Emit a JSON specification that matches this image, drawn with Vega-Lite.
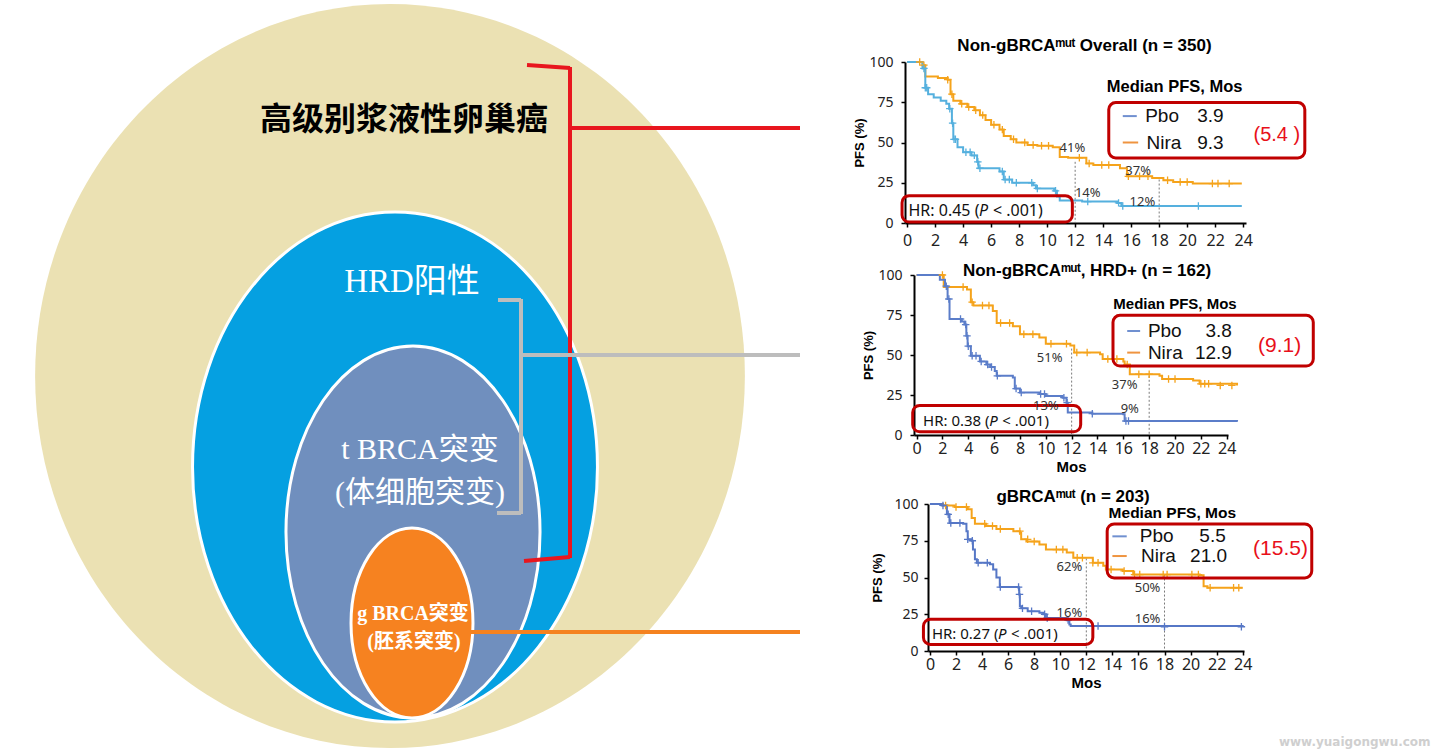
{
"$schema": "https://vega.github.io/schema/vega-lite/v6.json",
"padding": 0,
"background": "white",
"spacing": 42,
"resolve": {"scale": {"color": "independent", "stroke": "independent"}},
"config": {
 "view": {"stroke": null},
 "axis": {"grid": false, "domainColor": "#000", "domainWidth": 2, "tickColor": "#000", "tickWidth": 1.5, "tickSize": 4, "labelFont": "Noto Sans", "labelColor": "#222", "titleFont": "Liberation Sans", "titleFontWeight": "bold", "titleColor": "#000", "labelFlush": false, "labelOverlap": false},
 "axisX": {"labelFontSize": 16, "labelPadding": 1, "titleFontSize": 15, "titlePadding": 3},
 "axisY": {"labelFontSize": 14, "titleFontSize": 13},
 "title": {"font": "Liberation Sans", "fontWeight": "bold", "fontSize": 17, "color": "#000", "frame": "group"}
},
"datasets": {
 "ell": [
  {"id": "ovarian", "x": 390, "y": 376},
  {"id": "hrd", "x": 395, "y": 467},
  {"id": "tbrca", "x": 413, "y": 532},
  {"id": "gbrca", "x": 412, "y": 623}
 ],
 "links": [
  {"link": "ovarian", "x": 527, "y": 65, "x2": 570, "y2": 68},
  {"link": "ovarian", "x": 570, "y": 67, "x2": 570, "y2": 558},
  {"link": "ovarian", "x": 570, "y": 557, "x2": 524, "y2": 561},
  {"link": "ovarian", "x": 570, "y": 128, "x2": 800, "y2": 128},
  {"link": "hrd", "x": 498, "y": 300, "x2": 521, "y2": 300},
  {"link": "hrd", "x": 521, "y": 299, "x2": 521, "y2": 514},
  {"link": "hrd", "x": 521, "y": 513, "x2": 497, "y2": 513},
  {"link": "hrd", "x": 521, "y": 355, "x2": 800, "y2": 355},
  {"link": "gbrca", "x": 470, "y": 632, "x2": 800, "y2": 632}
 ],
 "labels": [
  {"grp": "main", "label": "高级别浆液性卵巢癌", "x": 404, "y": 120},
  {"grp": "hrd", "label": "HRD阳性", "x": 412, "y": 282},
  {"grp": "t", "label": "t BRCA突变", "x": 420, "y": 450},
  {"grp": "t", "label": "(体细胞突变)", "x": 420, "y": 493},
  {"grp": "g", "label": "g BRCA突变", "x": 413, "y": 614},
  {"grp": "g", "label": "(胚系突变)", "x": 414, "y": 642}
 ],
 "km1": [
  {"arm":"Nira","t":0,"s":100},{"arm":"Nira","t":1.1,"s":98},{"arm":"Nira","t":1.3,"s":91},{"arm":"Nira","t":2.2,"s":90},{"arm":"Nira","t":2.9,"s":89},{"arm":"Nira","t":3.1,"s":80},{"arm":"Nira","t":3.3,"s":76},{"arm":"Nira","t":3.8,"s":74},{"arm":"Nira","t":4.3,"s":72},{"arm":"Nira","t":4.8,"s":70},{"arm":"Nira","t":5.2,"s":67},{"arm":"Nira","t":5.6,"s":64},{"arm":"Nira","t":6.0,"s":61},{"arm":"Nira","t":6.6,"s":58},{"arm":"Nira","t":6.9,"s":54},{"arm":"Nira","t":7.4,"s":52},{"arm":"Nira","t":7.8,"s":50},{"arm":"Nira","t":8.6,"s":48.5},{"arm":"Nira","t":9.3,"s":48},{"arm":"Nira","t":10.4,"s":47},{"arm":"Nira","t":10.9,"s":41},{"arm":"Nira","t":11.5,"s":40.5},{"arm":"Nira","t":12.8,"s":37},{"arm":"Nira","t":13.3,"s":36},{"arm":"Nira","t":15.2,"s":34},{"arm":"Nira","t":15.7,"s":29},{"arm":"Nira","t":17.5,"s":28},{"arm":"Nira","t":18.3,"s":26.5},{"arm":"Nira","t":19.0,"s":25.5},{"arm":"Nira","t":20.4,"s":24.5},{"arm":"Nira","t":23.9,"s":24.5},
  {"arm":"Pbo","t":0,"s":100},{"arm":"Pbo","t":1.1,"s":96},{"arm":"Pbo","t":1.3,"s":84},{"arm":"Pbo","t":1.5,"s":80},{"arm":"Pbo","t":1.9,"s":78},{"arm":"Pbo","t":2.4,"s":76},{"arm":"Pbo","t":2.8,"s":74},{"arm":"Pbo","t":3.0,"s":71},{"arm":"Pbo","t":3.2,"s":62},{"arm":"Pbo","t":3.3,"s":52},{"arm":"Pbo","t":3.6,"s":47},{"arm":"Pbo","t":4.0,"s":44},{"arm":"Pbo","t":4.6,"s":42},{"arm":"Pbo","t":5.0,"s":38},{"arm":"Pbo","t":5.1,"s":34},{"arm":"Pbo","t":6.6,"s":32},{"arm":"Pbo","t":6.9,"s":27},{"arm":"Pbo","t":7.5,"s":25},{"arm":"Pbo","t":9.0,"s":23.5},{"arm":"Pbo","t":9.2,"s":21.5},{"arm":"Pbo","t":10.5,"s":20},{"arm":"Pbo","t":10.7,"s":16.5},{"arm":"Pbo","t":10.9,"s":14},{"arm":"Pbo","t":12.5,"s":13.3},{"arm":"Pbo","t":15.0,"s":12.5},{"arm":"Pbo","t":15.3,"s":10.5},{"arm":"Pbo","t":23.9,"s":10.5}
 ],
 "c1": [
  {"arm":"Nira","t":0.9,"s":100},{"arm":"Nira","t":1.2,"s":98},{"arm":"Nira","t":2.9,"s":89},{"arm":"Nira","t":3.2,"s":80},{"arm":"Nira","t":3.9,"s":74},{"arm":"Nira","t":4.4,"s":72},{"arm":"Nira","t":4.9,"s":70},{"arm":"Nira","t":5.4,"s":67},{"arm":"Nira","t":6.2,"s":61},{"arm":"Nira","t":6.8,"s":58},{"arm":"Nira","t":7.6,"s":52},{"arm":"Nira","t":8.4,"s":50},{"arm":"Nira","t":9.0,"s":48.5},{"arm":"Nira","t":9.6,"s":48},{"arm":"Nira","t":10.1,"s":48},{"arm":"Nira","t":12.3,"s":40.5},{"arm":"Nira","t":13.0,"s":37},{"arm":"Nira","t":13.9,"s":36},{"arm":"Nira","t":14.4,"s":36},{"arm":"Nira","t":15.8,"s":29},{"arm":"Nira","t":16.6,"s":29},{"arm":"Nira","t":17.2,"s":29},{"arm":"Nira","t":18.6,"s":26.5},{"arm":"Nira","t":19.5,"s":25.5},{"arm":"Nira","t":20.0,"s":25.5},{"arm":"Nira","t":21.8,"s":24.5},{"arm":"Nira","t":22.2,"s":24.5},{"arm":"Nira","t":23.0,"s":24.5},
  {"arm":"Pbo","t":1.2,"s":96},{"arm":"Pbo","t":1.3,"s":84},{"arm":"Pbo","t":1.4,"s":84},{"arm":"Pbo","t":3.05,"s":71},{"arm":"Pbo","t":3.25,"s":62},{"arm":"Pbo","t":3.35,"s":52},{"arm":"Pbo","t":3.45,"s":52},{"arm":"Pbo","t":4.2,"s":44},{"arm":"Pbo","t":4.5,"s":44},{"arm":"Pbo","t":4.8,"s":42},{"arm":"Pbo","t":5.05,"s":38},{"arm":"Pbo","t":5.2,"s":34},{"arm":"Pbo","t":6.8,"s":32},{"arm":"Pbo","t":7.0,"s":27},{"arm":"Pbo","t":7.3,"s":27},{"arm":"Pbo","t":7.8,"s":25},{"arm":"Pbo","t":8.9,"s":25},{"arm":"Pbo","t":9.3,"s":21.5},{"arm":"Pbo","t":10.6,"s":20},{"arm":"Pbo","t":12.9,"s":13.3},{"arm":"Pbo","t":15.1,"s":12.5},{"arm":"Pbo","t":15.4,"s":10.5},{"arm":"Pbo","t":20.8,"s":10.5}
 ],
 "g1": [{"t": 12, "s": 38}, {"t": 18, "s": 27}],
 "b1": [{"t": -0.36, "t2": 11.8, "s": 0.6, "s2": 17}, {"t": 14.4, "t2": 28.4, "s": 40.4, "s2": 74.8}],
 "d1": [{"arm": "Pbo", "t": 15.4, "t2": 16.4, "s": 66.4}, {"arm": "Nira", "t": 15.4, "t2": 16.5, "s": 50}],
 "a1": [
  {"role":"pct","t":11.8,"s":46.7,"label":"41%"},{"role":"pct","t":12.9,"s":18.8,"label":"14%"},{"role":"pct","t":16.5,"s":32,"label":"37%"},{"role":"pct","t":16.8,"s":13.3,"label":"12%"},
  {"role":"hr","t":0.1,"s":7.5,"label":"HR: 0.45 ("},{"role":"hrp","t":0.1,"s":7.5,"label":"P"},{"role":"hr2","t":0.1,"s":7.5,"label":"< .001)"},
  {"role":"head","t":19.1,"s":84.4,"label":"Median PFS, Mos"},
  {"role":"arm","t":17.0,"s":66.4,"label":"Pbo"},{"role":"arm","t":17.1,"s":50,"label":"Nira"},
  {"role":"val","t":22.6,"s":66.4,"label":"3.9"},{"role":"val","t":22.6,"s":50,"label":"9.3"},
  {"role":"diff","t":26.4,"s":54.6,"label":"(5.4 )"}
 ],
 "km2": [
  {"arm":"Nira","t":0,"s":100},{"arm":"Nira","t":2.1,"s":92.5},{"arm":"Nira","t":3.9,"s":91},{"arm":"Nira","t":4.2,"s":83},{"arm":"Nira","t":4.4,"s":81},{"arm":"Nira","t":5.9,"s":77.5},{"arm":"Nira","t":6.2,"s":70},{"arm":"Nira","t":7.45,"s":68},{"arm":"Nira","t":8.0,"s":63},{"arm":"Nira","t":9.5,"s":61},{"arm":"Nira","t":10.0,"s":57},{"arm":"Nira","t":11.9,"s":56},{"arm":"Nira","t":12.2,"s":51.5},{"arm":"Nira","t":14.2,"s":50.4},{"arm":"Nira","t":14.4,"s":47.5},{"arm":"Nira","t":16.0,"s":46},{"arm":"Nira","t":16.1,"s":44},{"arm":"Nira","t":16.5,"s":38},{"arm":"Nira","t":18.8,"s":37},{"arm":"Nira","t":19.0,"s":35},{"arm":"Nira","t":21.4,"s":34},{"arm":"Nira","t":21.9,"s":32},{"arm":"Nira","t":24.8,"s":31},
  {"arm":"Pbo","t":0,"s":100},{"arm":"Pbo","t":1.8,"s":97},{"arm":"Pbo","t":2.2,"s":93},{"arm":"Pbo","t":2.4,"s":85},{"arm":"Pbo","t":2.55,"s":72.5},{"arm":"Pbo","t":3.5,"s":71},{"arm":"Pbo","t":3.7,"s":69},{"arm":"Pbo","t":3.85,"s":62},{"arm":"Pbo","t":3.95,"s":55.5},{"arm":"Pbo","t":4.2,"s":49.5},{"arm":"Pbo","t":4.9,"s":46},{"arm":"Pbo","t":5.4,"s":44},{"arm":"Pbo","t":5.7,"s":42.5},{"arm":"Pbo","t":6.05,"s":40},{"arm":"Pbo","t":6.2,"s":37},{"arm":"Pbo","t":7.45,"s":36},{"arm":"Pbo","t":7.6,"s":29},{"arm":"Pbo","t":8.0,"s":26.5},{"arm":"Pbo","t":9.5,"s":25.6},{"arm":"Pbo","t":10.0,"s":24.4},{"arm":"Pbo","t":11.3,"s":23.3},{"arm":"Pbo","t":11.6,"s":20.2},{"arm":"Pbo","t":11.7,"s":14},{"arm":"Pbo","t":13.6,"s":13.3},{"arm":"Pbo","t":16.0,"s":13},{"arm":"Pbo","t":16.1,"s":8.75},{"arm":"Pbo","t":24.8,"s":8.3}
 ],
 "c2": [
  {"arm":"Nira","t":2.0,"s":100},{"arm":"Nira","t":3.6,"s":92.5},{"arm":"Nira","t":4.3,"s":83},{"arm":"Nira","t":5.1,"s":81},{"arm":"Nira","t":5.6,"s":81},{"arm":"Nira","t":6.5,"s":70},{"arm":"Nira","t":7.2,"s":70},{"arm":"Nira","t":8.3,"s":63},{"arm":"Nira","t":9.0,"s":63},{"arm":"Nira","t":10.4,"s":57},{"arm":"Nira","t":11.6,"s":57},{"arm":"Nira","t":12.4,"s":51.5},{"arm":"Nira","t":13.2,"s":51.5},{"arm":"Nira","t":14.8,"s":47.5},{"arm":"Nira","t":15.5,"s":47.5},{"arm":"Nira","t":16.3,"s":44},{"arm":"Nira","t":17.2,"s":38},{"arm":"Nira","t":18.0,"s":38},{"arm":"Nira","t":19.5,"s":35},{"arm":"Nira","t":20.0,"s":35},{"arm":"Nira","t":22.0,"s":32},{"arm":"Nira","t":22.3,"s":32},{"arm":"Nira","t":22.6,"s":32},{"arm":"Nira","t":23.5,"s":31},{"arm":"Nira","t":24.4,"s":31},
  {"arm":"Pbo","t":2.3,"s":93},{"arm":"Pbo","t":2.5,"s":85},{"arm":"Pbo","t":3.4,"s":72.5},{"arm":"Pbo","t":3.8,"s":69},{"arm":"Pbo","t":3.9,"s":62},{"arm":"Pbo","t":4.0,"s":55.5},{"arm":"Pbo","t":4.3,"s":49.5},{"arm":"Pbo","t":4.6,"s":49.5},{"arm":"Pbo","t":5.0,"s":46},{"arm":"Pbo","t":5.5,"s":44},{"arm":"Pbo","t":5.8,"s":42.5},{"arm":"Pbo","t":6.25,"s":37},{"arm":"Pbo","t":7.7,"s":29},{"arm":"Pbo","t":8.1,"s":26.5},{"arm":"Pbo","t":9.6,"s":25.6},{"arm":"Pbo","t":9.9,"s":25.6},{"arm":"Pbo","t":11.4,"s":23.3},{"arm":"Pbo","t":11.65,"s":20.2},{"arm":"Pbo","t":13.6,"s":13.3},{"arm":"Pbo","t":16.2,"s":8.75},{"arm":"Pbo","t":16.4,"s":8.75}
 ],
 "g2": [{"t": 12, "s": 54}, {"t": 18, "s": 37}],
 "b2": [{"t": -0.3, "t2": 12.7, "s": 2, "s2": 18.5}, {"t": 15.2, "t2": 30.7, "s": 43.1, "s2": 74.8}],
 "d2": [{"arm": "Pbo", "t": 16.3, "t2": 17.3, "s": 65}, {"arm": "Nira", "t": 16.3, "t2": 17.3, "s": 51.5}],
 "a2": [
  {"role":"pct","t":10.3,"s":48.3,"label":"51%"},{"role":"pct","t":16.1,"s":31,"label":"37%"},{"role":"pct","t":10,"s":18,"label":"13%"},{"role":"pct","t":16.5,"s":16,"label":"9%"},
  {"role":"hr","t":0.5,"s":8.75,"label":"HR: 0.38 ("},{"role":"hrp","t":0.5,"s":8.75,"label":"P"},{"role":"hr2","t":0.5,"s":8.75,"label":"< .001)"},
  {"role":"head","t":20.0,"s":81.7,"label":"Median PFS, Mos"},
  {"role":"arm","t":17.9,"s":65,"label":"Pbo"},{"role":"arm","t":17.9,"s":51.5,"label":"Nira"},
  {"role":"val","t":24.4,"s":65,"label":"3.8"},{"role":"val","t":24.4,"s":51.5,"label":"12.9"},
  {"role":"diff","t":28.1,"s":55.6,"label":"(9.1)"}
 ],
 "km3": [
  {"arm":"Nira","t":0,"s":100},{"arm":"Nira","t":1.0,"s":99},{"arm":"Nira","t":1.9,"s":98},{"arm":"Nira","t":2.9,"s":96.5},{"arm":"Nira","t":3.2,"s":90.5},{"arm":"Nira","t":3.45,"s":86.5},{"arm":"Nira","t":4.3,"s":85},{"arm":"Nira","t":5.1,"s":83},{"arm":"Nira","t":6.4,"s":81.5},{"arm":"Nira","t":6.9,"s":80.5},{"arm":"Nira","t":7.0,"s":76},{"arm":"Nira","t":7.4,"s":74.5},{"arm":"Nira","t":8.4,"s":72.5},{"arm":"Nira","t":8.9,"s":69},{"arm":"Nira","t":10.5,"s":67},{"arm":"Nira","t":11.0,"s":63.5},{"arm":"Nira","t":12.5,"s":60},{"arm":"Nira","t":13.3,"s":58},{"arm":"Nira","t":13.5,"s":55.5},{"arm":"Nira","t":14.8,"s":54.5},{"arm":"Nira","t":15.6,"s":52},{"arm":"Nira","t":20.7,"s":51.5},{"arm":"Nira","t":21.0,"s":44},{"arm":"Nira","t":21.3,"s":43},{"arm":"Nira","t":24.0,"s":43},
  {"arm":"Pbo","t":0,"s":100},{"arm":"Pbo","t":0.9,"s":99},{"arm":"Pbo","t":1.3,"s":93},{"arm":"Pbo","t":1.5,"s":87},{"arm":"Pbo","t":2.55,"s":86.5},{"arm":"Pbo","t":2.8,"s":81.5},{"arm":"Pbo","t":2.9,"s":76},{"arm":"Pbo","t":3.2,"s":75},{"arm":"Pbo","t":3.3,"s":69},{"arm":"Pbo","t":3.45,"s":62.5},{"arm":"Pbo","t":3.6,"s":60},{"arm":"Pbo","t":4.6,"s":59},{"arm":"Pbo","t":4.85,"s":55.5},{"arm":"Pbo","t":5.1,"s":50},{"arm":"Pbo","t":5.36,"s":43.5},{"arm":"Pbo","t":6.8,"s":43},{"arm":"Pbo","t":6.85,"s":38.5},{"arm":"Pbo","t":6.9,"s":30.5},{"arm":"Pbo","t":7.0,"s":29},{"arm":"Pbo","t":7.5,"s":27},{"arm":"Pbo","t":8.4,"s":26},{"arm":"Pbo","t":8.7,"s":25},{"arm":"Pbo","t":8.9,"s":22.5},{"arm":"Pbo","t":10.5,"s":21},{"arm":"Pbo","t":10.7,"s":18},{"arm":"Pbo","t":10.8,"s":17},{"arm":"Pbo","t":24.0,"s":16.5}
 ],
 "c3": [
  {"arm":"Nira","t":1.2,"s":99},{"arm":"Nira","t":2.0,"s":98},{"arm":"Nira","t":2.8,"s":98},{"arm":"Nira","t":4.2,"s":86.5},{"arm":"Nira","t":4.8,"s":85},{"arm":"Nira","t":5.4,"s":83},{"arm":"Nira","t":6.9,"s":81.5},{"arm":"Nira","t":7.5,"s":76},{"arm":"Nira","t":8.0,"s":74.5},{"arm":"Nira","t":9.7,"s":69},{"arm":"Nira","t":10.2,"s":69},{"arm":"Nira","t":11.3,"s":63.5},{"arm":"Nira","t":11.7,"s":63.5},{"arm":"Nira","t":12.5,"s":60},{"arm":"Nira","t":12.9,"s":60},{"arm":"Nira","t":13.9,"s":55.5},{"arm":"Nira","t":14.9,"s":54.5},{"arm":"Nira","t":15.7,"s":52},{"arm":"Nira","t":16.1,"s":52},{"arm":"Nira","t":17.9,"s":52},{"arm":"Nira","t":18.2,"s":52},{"arm":"Nira","t":20.1,"s":52},{"arm":"Nira","t":20.6,"s":52},{"arm":"Nira","t":21.5,"s":43},{"arm":"Nira","t":23.3,"s":43},{"arm":"Nira","t":23.7,"s":43},
  {"arm":"Pbo","t":1.0,"s":99},{"arm":"Pbo","t":1.4,"s":93},{"arm":"Pbo","t":1.6,"s":87},{"arm":"Pbo","t":2.3,"s":87},{"arm":"Pbo","t":2.9,"s":76},{"arm":"Pbo","t":3.25,"s":75},{"arm":"Pbo","t":3.7,"s":60},{"arm":"Pbo","t":4.4,"s":60},{"arm":"Pbo","t":5.4,"s":43.5},{"arm":"Pbo","t":6.8,"s":43.5},{"arm":"Pbo","t":6.87,"s":38.5},{"arm":"Pbo","t":7.1,"s":29},{"arm":"Pbo","t":7.8,"s":27},{"arm":"Pbo","t":8.8,"s":25},{"arm":"Pbo","t":9.0,"s":22.5},{"arm":"Pbo","t":10.6,"s":21},{"arm":"Pbo","t":12.9,"s":17},{"arm":"Pbo","t":18.0,"s":16.5},{"arm":"Pbo","t":23.9,"s":16.5}
 ],
 "g3": [{"t": 12, "s": 63}, {"t": 18, "s": 52}],
 "b3": [{"t": -0.5, "t2": 12.5, "s": 4.5, "s2": 21.6}, {"t": 13.6, "t2": 29.3, "s": 49.7, "s2": 86.4}],
 "d3": [{"arm": "Pbo", "t": 14.0, "t2": 15.1, "s": 78}, {"arm": "Nira", "t": 14.0, "t2": 15.1, "s": 64.6}],
 "a3": [
  {"role":"pct","t":10.7,"s":57,"label":"62%"},{"role":"pct","t":16.7,"s":43,"label":"50%"},{"role":"pct","t":10.7,"s":26,"label":"16%"},{"role":"pct","t":16.7,"s":22,"label":"16%"},
  {"role":"hr","t":0.15,"s":11.5,"label":"HR: 0.27 ("},{"role":"hrp","t":0.15,"s":11.5,"label":"P"},{"role":"hr2","t":0.15,"s":11.5,"label":"< .001)"},
  {"role":"head","t":18.6,"s":94,"label":"Median PFS, Mos"},
  {"role":"arm","t":16.1,"s":78,"label":"Pbo"},{"role":"arm","t":16.2,"s":64.6,"label":"Nira"},
  {"role":"val","t":22.7,"s":78,"label":"5.5"},{"role":"val","t":22.8,"s":64.6,"label":"21.0"},
  {"role":"diff","t":26.9,"s":69.4,"label":"(15.5)"},
  {"role":"wm","t":32.6,"s":-62,"label":"www.yuaigongwu.com"}
 ]
},
"hconcat": [
 {
  "width": 800, "height": 753,
  "encoding": {
   "x": {"field": "x", "type": "quantitative", "scale": {"domain": [0, 800], "nice": false, "zero": false}, "axis": null},
   "y": {"field": "y", "type": "quantitative", "scale": {"domain": [0, 753], "nice": false, "zero": false, "reverse": true}, "axis": null}
  },
  "layer": [
   {"data": {"name": "ell"}, "transform": [{"filter": "datum.id === 'ovarian'"}],
    "mark": {"type": "point", "shape": "M -0.954 0 A 0.954 1 0 1 1 0.954 0 A 0.954 1 0 1 1 -0.954 0 Z", "size": 553536, "filled": true, "fill": "#EBE1B3", "opacity": 1, "strokeWidth": 0}},
   {"data": {"name": "ell"}, "transform": [{"filter": "datum.id === 'hrd'"}],
    "mark": {"type": "point", "shape": "M -0.794 0 A 0.794 1 0 1 1 0.794 0 A 0.794 1 0 1 1 -0.794 0 Z", "size": 260100, "filled": true, "fill": "#05A0E1", "stroke": "#FFFFFF", "strokeWidth": 3, "opacity": 1}},
   {"data": {"name": "ell"}, "transform": [{"filter": "datum.id === 'tbrca'"}],
    "mark": {"type": "point", "shape": "M -0.683 0 A 0.683 1 0 1 1 0.683 0 A 0.683 1 0 1 1 -0.683 0 Z", "size": 138384, "filled": true, "fill": "#708FBE", "stroke": "#FFFFFF", "strokeWidth": 3, "opacity": 1}},
   {"data": {"name": "ell"}, "transform": [{"filter": "datum.id === 'gbrca'"}],
    "mark": {"type": "point", "shape": "M -0.642 0 A 0.642 1 0 1 1 0.642 0 A 0.642 1 0 1 1 -0.642 0 Z", "size": 36100, "filled": true, "fill": "#F68220", "stroke": "#FFFFFF", "strokeWidth": 3, "opacity": 1}},
   {"data": {"name": "links"}, "mark": {"type": "rule", "strokeWidth": 4},
    "encoding": {"x2": {"field": "x2"}, "y2": {"field": "y2"},
     "color": {"field": "link", "type": "nominal", "scale": {"domain": ["ovarian", "hrd", "gbrca"], "range": ["#E8161E", "#BDBDBD", "#F5821F"]}, "legend": null}}},
   {"data": {"name": "labels"}, "transform": [{"filter": "datum.grp === 'main'"}],
    "mark": {"type": "text", "font": "Noto Sans CJK SC", "fontWeight": "bold", "fontSize": 32, "color": "#000000"},
    "encoding": {"text": {"field": "label"}}},
   {"data": {"name": "labels"}, "transform": [{"filter": "datum.grp === 'hrd'"}],
    "mark": {"type": "text", "font": "Liberation Serif, Noto Sans CJK SC", "fontSize": 33, "color": "#FFFFFF"},
    "encoding": {"text": {"field": "label"}}},
   {"data": {"name": "labels"}, "transform": [{"filter": "datum.grp === 't'"}],
    "mark": {"type": "text", "font": "Liberation Serif, Noto Sans CJK SC", "fontSize": 30, "color": "#FFFFFF"},
    "encoding": {"text": {"field": "label"}}},
   {"data": {"name": "labels"}, "transform": [{"filter": "datum.grp === 'g'"}],
    "mark": {"type": "text", "font": "Liberation Serif, Noto Sans CJK SC", "fontWeight": "bold", "fontSize": 20, "color": "#FFFFFF"},
    "encoding": {"text": {"field": "label"}}}
  ]
 },
 {
  "spacing": 14,
  "columns": 1,
  "resolve": {"scale": {"color": "independent", "stroke": "independent"}},
  "concat": [
   {"width": 10, "height": 23, "data": {"values": [{}]}, "mark": {"type": "text", "text": ""}, "encoding": {}},
   {"spacing": 0, "hconcat": [
    {"width": 9, "height": 1, "data": {"values": [{}]}, "mark": {"type": "text", "text": ""}, "encoding": {}},
    {
    "width": 341, "height": 161,
    "title": {"text": "Non-gBRCAᵐᵘᵗ Overall (n = 350)", "offset": 0, "dx": 9},
    "encoding": {
     "x": {"field": "t", "type": "quantitative", "scale": {"domain": [-0.15, 24.2], "nice": false, "zero": false}, "axis": {"values": [0,2,4,6,8,10,12,14,16,18,20,22,24], "title": null, "labelPadding": 5}},
     "y": {"field": "s", "type": "quantitative", "scale": {"domain": [0, 100], "nice": false, "zero": false}, "axis": {"values": [0,25,50,75,100], "title": "PFS (%)", "labelPadding": 8, "titlePadding": 2}}
    },
    "layer": [
     {"data": {"name": "g1"}, "mark": {"type": "rule", "strokeDash": [2, 2], "color": "#7a7a7a", "strokeWidth": 1}, "encoding": {"y2": {"datum": 0}}},
     {"data": {"name": "km1"}, "mark": {"type": "line", "interpolate": "step-after", "strokeWidth": 2},
      "encoding": {"color": {"field": "arm", "type": "nominal", "scale": {"domain": ["Pbo", "Nira"], "range": ["#55B0DE", "#F5A31B"]}, "legend": null}}},
     {"data": {"name": "c1"}, "mark": {"type": "point", "shape": "M -1 0 L 1 0 M 0 -1 L 0 1", "size": 56, "strokeWidth": 1.3, "filled": false, "opacity": 1},
      "encoding": {"color": {"field": "arm", "type": "nominal", "legend": null}}},
     {"data": {"name": "b1"}, "mark": {"type": "rect", "fillOpacity": 0, "stroke": "#C00000", "strokeWidth": 3, "cornerRadius": 7},
      "encoding": {"x2": {"field": "t2"}, "y2": {"field": "s2"}}},
     {"data": {"name": "d1"}, "mark": {"type": "rule", "strokeWidth": 2},
      "encoding": {"x2": {"field": "t2"}, "stroke": {"field": "arm", "type": "nominal", "scale": {"domain": ["Pbo", "Nira"], "range": ["#7090D0", "#EF9440"]}, "legend": null}}},
     {"data": {"name": "a1"}, "transform": [{"filter": "datum.role === 'pct'"}], "mark": {"type": "text", "font": "Noto Sans", "fontSize": 13, "color": "#333"}, "encoding": {"text": {"field": "label"}}},
     {"data": {"name": "a1"}, "transform": [{"filter": "datum.role === 'hr'"}], "mark": {"type": "text", "font": "Noto Sans", "fontSize": 16, "align": "left", "color": "#111"}, "encoding": {"text": {"field": "label"}}},
     {"data": {"name": "a1"}, "transform": [{"filter": "datum.role === 'hrp'"}], "mark": {"type": "text", "font": "Noto Sans", "fontSize": 16, "fontStyle": "italic", "align": "left", "dx": 70.6, "color": "#111"}, "encoding": {"text": {"field": "label"}}},
     {"data": {"name": "a1"}, "transform": [{"filter": "datum.role === 'hr2'"}], "mark": {"type": "text", "font": "Noto Sans", "fontSize": 16, "align": "left", "dx": 84.4, "color": "#111"}, "encoding": {"text": {"field": "label"}}},
     {"data": {"name": "a1"}, "transform": [{"filter": "datum.role === 'head'"}], "mark": {"type": "text", "font": "Liberation Sans", "fontWeight": "bold", "fontSize": 16.5, "color": "#000"}, "encoding": {"text": {"field": "label"}}},
     {"data": {"name": "a1"}, "transform": [{"filter": "datum.role === 'arm'"}], "mark": {"type": "text", "font": "Liberation Sans", "fontSize": 19, "align": "left", "color": "#111"}, "encoding": {"text": {"field": "label"}}},
     {"data": {"name": "a1"}, "transform": [{"filter": "datum.role === 'val'"}], "mark": {"type": "text", "font": "Liberation Sans", "fontSize": 19, "align": "right", "color": "#111"}, "encoding": {"text": {"field": "label"}}},
     {"data": {"name": "a1"}, "transform": [{"filter": "datum.role === 'diff'"}], "mark": {"type": "text", "font": "Liberation Sans", "fontSize": 20, "color": "#E8101A"}, "encoding": {"text": {"field": "label"}}}
    ]
   }]},
   {"spacing": 0, "hconcat": [
    {"width": 18, "height": 1, "data": {"values": [{}]}, "mark": {"type": "text", "text": ""}, "encoding": {}},
    {
    "width": 314, "height": 160,
    "title": {"text": "Non-gBRCAᵐᵘᵗ, HRD+ (n = 162)", "offset": -12, "dx": 16},
    "encoding": {
     "x": {"field": "t", "type": "quantitative", "scale": {"domain": [-0.2, 24.1], "nice": false, "zero": false}, "axis": {"values": [0,2,4,6,8,10,12,14,16,18,20,22,24], "title": "Mos"}},
     "y": {"field": "s", "type": "quantitative", "scale": {"domain": [0, 100], "nice": false, "zero": false}, "axis": {"values": [0,25,50,75,100], "title": "PFS (%)", "labelPadding": 8, "titlePadding": 2}}
    },
    "layer": [
     {"data": {"name": "g2"}, "mark": {"type": "rule", "strokeDash": [2, 2], "color": "#7a7a7a", "strokeWidth": 1}, "encoding": {"y2": {"datum": 0}}},
     {"data": {"name": "km2"}, "mark": {"type": "line", "interpolate": "step-after", "strokeWidth": 2},
      "encoding": {"color": {"field": "arm", "type": "nominal", "scale": {"domain": ["Pbo", "Nira"], "range": ["#5B7DC9", "#F5A31B"]}, "legend": null}}},
     {"data": {"name": "c2"}, "mark": {"type": "point", "shape": "M -1 0 L 1 0 M 0 -1 L 0 1", "size": 56, "strokeWidth": 1.3, "filled": false, "opacity": 1},
      "encoding": {"color": {"field": "arm", "type": "nominal", "legend": null}}},
     {"data": {"name": "b2"}, "mark": {"type": "rect", "fillOpacity": 0, "stroke": "#C00000", "strokeWidth": 3, "cornerRadius": 7},
      "encoding": {"x2": {"field": "t2"}, "y2": {"field": "s2"}}},
     {"data": {"name": "d2"}, "mark": {"type": "rule", "strokeWidth": 2},
      "encoding": {"x2": {"field": "t2"}, "stroke": {"field": "arm", "type": "nominal", "scale": {"domain": ["Pbo", "Nira"], "range": ["#7090D0", "#EF9440"]}, "legend": null}}},
     {"data": {"name": "a2"}, "transform": [{"filter": "datum.role === 'pct'"}], "mark": {"type": "text", "font": "Noto Sans", "fontSize": 13, "color": "#333"}, "encoding": {"text": {"field": "label"}}},
     {"data": {"name": "a2"}, "transform": [{"filter": "datum.role === 'hr'"}], "mark": {"type": "text", "font": "Noto Sans", "fontSize": 15, "align": "left", "color": "#111"}, "encoding": {"text": {"field": "label"}}},
     {"data": {"name": "a2"}, "transform": [{"filter": "datum.role === 'hrp'"}], "mark": {"type": "text", "font": "Noto Sans", "fontSize": 15, "fontStyle": "italic", "align": "left", "dx": 66.2, "color": "#111"}, "encoding": {"text": {"field": "label"}}},
     {"data": {"name": "a2"}, "transform": [{"filter": "datum.role === 'hr2'"}], "mark": {"type": "text", "font": "Noto Sans", "fontSize": 15, "align": "left", "dx": 79.1, "color": "#111"}, "encoding": {"text": {"field": "label"}}},
     {"data": {"name": "a2"}, "transform": [{"filter": "datum.role === 'head'"}], "mark": {"type": "text", "font": "Liberation Sans", "fontWeight": "bold", "fontSize": 15, "color": "#000"}, "encoding": {"text": {"field": "label"}}},
     {"data": {"name": "a2"}, "transform": [{"filter": "datum.role === 'arm'"}], "mark": {"type": "text", "font": "Liberation Sans", "fontSize": 19, "align": "left", "color": "#111"}, "encoding": {"text": {"field": "label"}}},
     {"data": {"name": "a2"}, "transform": [{"filter": "datum.role === 'val'"}], "mark": {"type": "text", "font": "Liberation Sans", "fontSize": 19, "align": "right", "color": "#111"}, "encoding": {"text": {"field": "label"}}},
     {"data": {"name": "a2"}, "transform": [{"filter": "datum.role === 'diff'"}], "mark": {"type": "text", "font": "Liberation Sans", "fontSize": 21, "color": "#E8101A"}, "encoding": {"text": {"field": "label"}}}
    ]
   }]},
   {"spacing": 0, "hconcat": [
    {"width": 27, "height": 1, "data": {"values": [{}]}, "mark": {"type": "text", "text": ""}, "encoding": {}},
    {
    "width": 316, "height": 147,
    "title": {"text": "gBRCAᵐᵘᵗ (n = 203)", "offset": -9, "dx": -13},
    "encoding": {
     "x": {"field": "t", "type": "quantitative", "scale": {"domain": [-0.15, 24.1], "nice": false, "zero": false}, "axis": {"values": [0,2,4,6,8,10,12,14,16,18,20,22,24], "title": "Mos"}},
     "y": {"field": "s", "type": "quantitative", "scale": {"domain": [0, 100], "nice": false, "zero": false}, "axis": {"values": [0,25,50,75,100], "title": "PFS (%)", "labelPadding": 6, "titlePadding": 9}}
    },
    "layer": [
     {"data": {"name": "g3"}, "mark": {"type": "rule", "strokeDash": [2, 2], "color": "#7a7a7a", "strokeWidth": 1}, "encoding": {"y2": {"datum": 0}}},
     {"data": {"name": "km3"}, "mark": {"type": "line", "interpolate": "step-after", "strokeWidth": 2},
      "encoding": {"color": {"field": "arm", "type": "nominal", "scale": {"domain": ["Pbo", "Nira"], "range": ["#5677C6", "#F5A31B"]}, "legend": null}}},
     {"data": {"name": "c3"}, "mark": {"type": "point", "shape": "M -1 0 L 1 0 M 0 -1 L 0 1", "size": 56, "strokeWidth": 1.3, "filled": false, "opacity": 1},
      "encoding": {"color": {"field": "arm", "type": "nominal", "legend": null}}},
     {"data": {"name": "b3"}, "mark": {"type": "rect", "fillOpacity": 0, "stroke": "#C00000", "strokeWidth": 3, "cornerRadius": 7},
      "encoding": {"x2": {"field": "t2"}, "y2": {"field": "s2"}}},
     {"data": {"name": "d3"}, "mark": {"type": "rule", "strokeWidth": 2},
      "encoding": {"x2": {"field": "t2"}, "stroke": {"field": "arm", "type": "nominal", "scale": {"domain": ["Pbo", "Nira"], "range": ["#7090D0", "#EF9440"]}, "legend": null}}},
     {"data": {"name": "a3"}, "transform": [{"filter": "datum.role === 'pct'"}], "mark": {"type": "text", "font": "Noto Sans", "fontSize": 13, "color": "#333"}, "encoding": {"text": {"field": "label"}}},
     {"data": {"name": "a3"}, "transform": [{"filter": "datum.role === 'hr'"}], "mark": {"type": "text", "font": "Noto Sans", "fontSize": 15, "align": "left", "color": "#111"}, "encoding": {"text": {"field": "label"}}},
     {"data": {"name": "a3"}, "transform": [{"filter": "datum.role === 'hrp'"}], "mark": {"type": "text", "font": "Noto Sans", "fontSize": 15, "fontStyle": "italic", "align": "left", "dx": 66.2, "color": "#111"}, "encoding": {"text": {"field": "label"}}},
     {"data": {"name": "a3"}, "transform": [{"filter": "datum.role === 'hr2'"}], "mark": {"type": "text", "font": "Noto Sans", "fontSize": 15, "align": "left", "dx": 79.1, "color": "#111"}, "encoding": {"text": {"field": "label"}}},
     {"data": {"name": "a3"}, "transform": [{"filter": "datum.role === 'head'"}], "mark": {"type": "text", "font": "Liberation Sans", "fontWeight": "bold", "fontSize": 15.5, "color": "#000"}, "encoding": {"text": {"field": "label"}}},
     {"data": {"name": "a3"}, "transform": [{"filter": "datum.role === 'arm'"}], "mark": {"type": "text", "font": "Liberation Sans", "fontSize": 19, "align": "left", "color": "#111"}, "encoding": {"text": {"field": "label"}}},
     {"data": {"name": "a3"}, "transform": [{"filter": "datum.role === 'val'"}], "mark": {"type": "text", "font": "Liberation Sans", "fontSize": 19, "align": "right", "color": "#111"}, "encoding": {"text": {"field": "label"}}},
     {"data": {"name": "a3"}, "transform": [{"filter": "datum.role === 'diff'"}], "mark": {"type": "text", "font": "Liberation Sans", "fontSize": 21, "color": "#E8101A"}, "encoding": {"text": {"field": "label"}}},
     {"data": {"name": "a3"}, "transform": [{"filter": "datum.role === 'wm'"}], "mark": {"type": "text", "font": "DejaVu Sans", "fontWeight": "bold", "fontSize": 12, "color": "#CFCFCF"}, "encoding": {"text": {"field": "label"}}}
    ]
   }]}
  ]
 }
]
}
